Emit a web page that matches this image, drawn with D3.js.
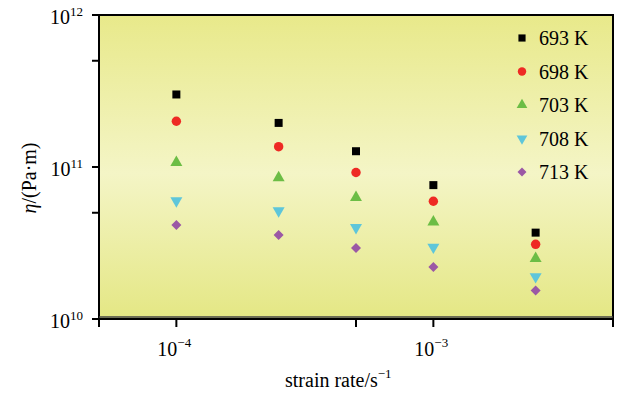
<!DOCTYPE html>
<html>
<head>
<meta charset="utf-8">
<script src="https://cdn.jsdelivr.net/npm/d3@7"></script>
<style>
  body { margin: 0; background: #fff; }
</style>
</head>
<body>
<svg id="chart" width="622" height="394" font-family="Liberation Serif"></svg>
<script>
// strain rates (1/s)
const strainRates = [1e-4, 2.5e-4, 5e-4, 1e-3, 2.5e-3];

// viscosity (Pa·m) for each temperature
const temps = ["693 K", "698 K", "703 K", "708 K", "713 K"];
const eta693 = [3.0e11, 1.95e11, 1.27e11, 7.6e10, 3.7e10];
const eta698 = [2.0e11, 1.36e11, 9.2e10, 5.95e10, 3.1e10];
const eta703 = [1.07e11, 8.5e10, 6.3e10, 4.35e10, 2.5e10];
const eta708 = [6.0e10, 5.15e10, 4.0e10, 2.97e10, 1.9e10];
const eta713 = [4.15e10, 3.57e10, 2.93e10, 2.2e10, 1.54e10];

const xMajorTicks = [1e-4, 1e-3];
const xMinorTicks = [5e-5, 5e-4, 5e-3];
const yMajorTicks = [1e10, 1e11, 1e12];
const yMinorTicks = [5e10, 5e11];

const series = [
  { name: temps[0], values: eta693, symbol: d3.symbolSquare, size: 64, color: "#000000", rot: 0 },
  { name: temps[1], values: eta698, symbol: d3.symbolCircle, size: 70, color: "#ee2a24", rot: 0 },
  { name: temps[2], values: eta703, symbol: d3.symbolTriangle, size: 62, color: "#6cbd45", rot: 0 },
  { name: temps[3], values: eta708, symbol: d3.symbolTriangle, size: 62, color: "#5ec6da", rot: 180 },
  // diamond = square turned 45 degrees
  { name: temps[4], values: eta713, symbol: d3.symbolSquare, size: 50, color: "#9b58a5", rot: 45 },
];

const margins = { top: 15, right: 9, bottom: 75, left: 99 };
const width = 622, height = 394;

const svg = d3.select("#chart");

const x = d3.scaleLog()
  .domain([5e-5, 5e-3])
  .range([margins.left, width - margins.right]);

const y = d3.scaleLog()
  .domain([1e10, 1e12])
  .range([height - margins.bottom, margins.top]);

// Background gradient
const defs = svg.append("defs");
const grad = defs.append("linearGradient")
  .attr("id", "bg")
  .attr("x1", 0).attr("y1", 0).attr("x2", 0).attr("y2", 1);
grad.append("stop").attr("offset", "0%").attr("stop-color", "#e8e98a");
grad.append("stop").attr("offset", "52%").attr("stop-color", "#f4f5c6");
grad.append("stop").attr("offset", "100%").attr("stop-color", "#e4e784");

const x0 = margins.left, x1 = width - margins.right;
const y0 = margins.top, y1 = height - margins.bottom;

svg.append("rect")
  .attr("x", x0).attr("y", y0)
  .attr("width", x1 - x0).attr("height", y1 - y0)
  .attr("fill", "url(#bg)");

// Y axis ticks
const yAxis = svg.append("g").attr("transform", `translate(${x0},0)`);
yAxis.selectAll("line")
  .data(yMajorTicks.concat(yMinorTicks))
  .join("line")
  .attr("x1", -7).attr("x2", 0)
  .attr("y1", (d) => y(d)).attr("y2", (d) => y(d))
  .attr("stroke", "#000").attr("stroke-width", 2);

const yLab = yAxis.selectAll("text")
  .data(yMajorTicks)
  .join("text")
  .attr("x", -16)
  .attr("y", (d) => y(d) + 9)
  .attr("text-anchor", "end")
  .attr("font-size", 20);
yLab.append("tspan").text("10");
yLab.append("tspan")
  .attr("font-size", 13)
  .attr("dy", -8)
  .text((d) => Math.round(Math.log10(d)));

// X axis ticks
const xAxis = svg.append("g").attr("transform", `translate(0,${y1})`);
xAxis.selectAll("line")
  .data(xMajorTicks.concat(xMinorTicks))
  .join("line")
  .attr("x1", (d) => x(d)).attr("x2", (d) => x(d))
  .attr("y1", 0).attr("y2", 8)
  .attr("stroke", "#000").attr("stroke-width", 2);

const xLab = xAxis.selectAll("text")
  .data(xMajorTicks)
  .join("text")
  .attr("x", (d) => x(d) - 19)
  .attr("y", 37)
  .attr("font-size", 20);
xLab.append("tspan").text("10");
xLab.append("tspan")
  .attr("font-size", 13)
  .attr("dy", -9)
  .text((d) => "\u2212" + Math.round(-Math.log10(d)));

// Frame
svg.append("rect")
  .attr("x", x0).attr("y", y0)
  .attr("width", x1 - x0).attr("height", y1 - y0)
  .attr("fill", "none")
  .attr("stroke", "#000").attr("stroke-width", 2);
svg.append("line")
  .attr("x1", x0).attr("x2", x1)
  .attr("y1", y1 - 2).attr("y2", y1 - 2)
  .attr("stroke", "#444").attr("stroke-width", 1.5);

// Axis titles
const xTitle = svg.append("text")
  .attr("x", 285)
  .attr("y", 387)
  .attr("font-size", 20);
xTitle.append("tspan").text("strain rate/s");
xTitle.append("tspan").attr("font-size", 13).attr("dy", -9).text("\u22121");

const yTitle = svg.append("text")
  .attr("transform", `translate(36, 178) rotate(-90)`)
  .attr("text-anchor", "middle")
  .attr("font-size", 20);
yTitle.append("tspan").attr("font-style", "italic").text("\u03b7");
yTitle.append("tspan").text("/(Pa\u00b7m)");

// Data points
const marks = svg.append("g");
series.forEach((s) => {
  marks.append("g")
    .selectAll("path")
    .data(s.values.map((v, i) => ({ rate: strainRates[i], eta: v })))
    .join("path")
    .attr("d", d3.symbol().type(s.symbol).size(s.size))
    .attr("transform", (d) => `translate(${x(d.rate)},${y(d.eta)}) rotate(${s.rot})`)
    .attr("fill", s.color);
});

// Legend
const legend = svg.append("g").attr("transform", "translate(522,38)");
const rows = legend.selectAll("g")
  .data(series)
  .join("g")
  .attr("transform", (d, i) => `translate(0,${i * 33.5})`);
rows.append("path")
  .attr("d", (d) => d3.symbol().type(d.symbol).size(d.size * 0.8)())
  .attr("transform", (d) => `rotate(${d.rot})`)
  .attr("fill", (d) => d.color);
rows.append("text")
  .attr("x", 17)
  .attr("y", 7)
  .attr("font-size", 20)
  .text((d) => d.name);
</script>
</body>
</html>
